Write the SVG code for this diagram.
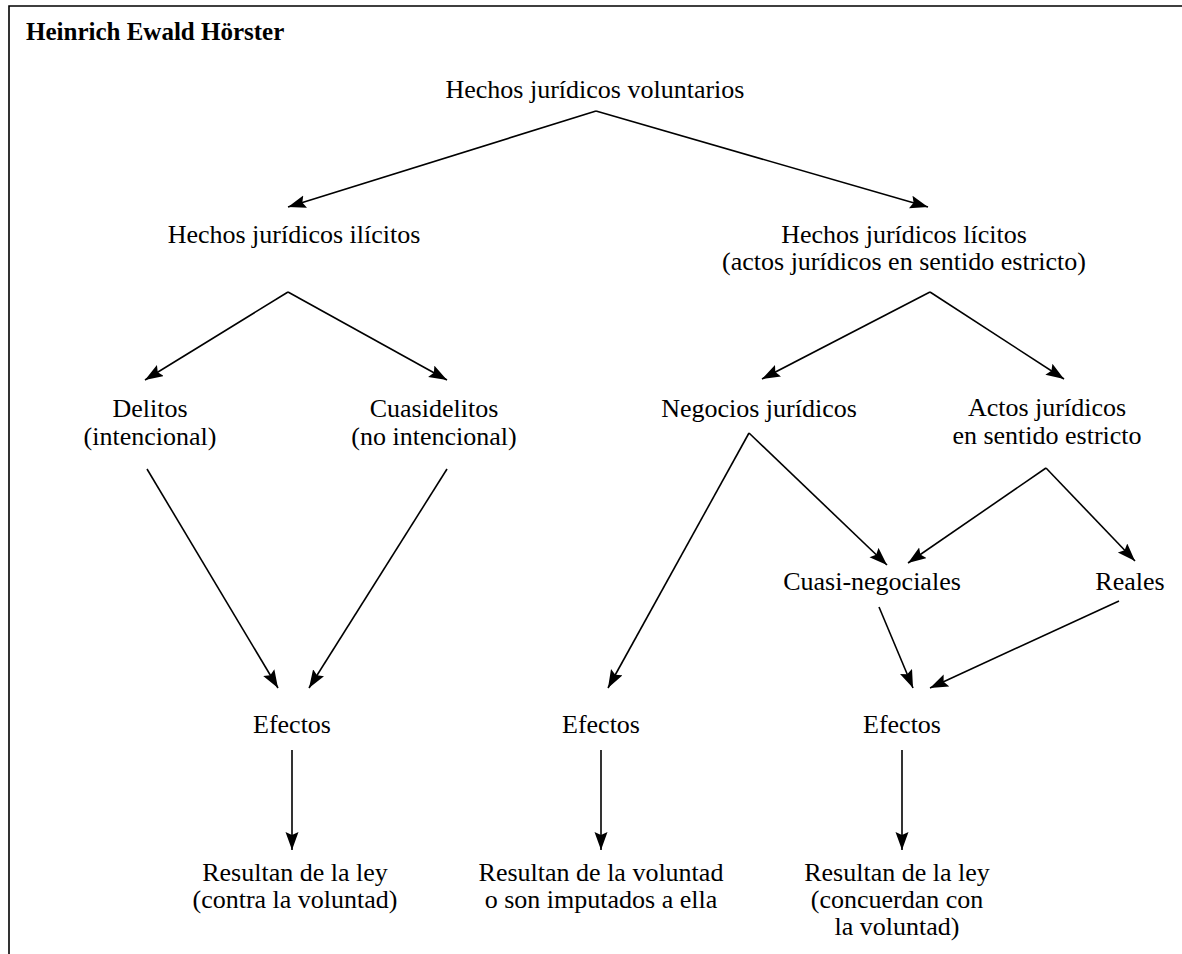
<svg xmlns="http://www.w3.org/2000/svg" width="1182" height="954" viewBox="0 0 1182 954">
<defs>
<marker id="ah" markerUnits="userSpaceOnUse" markerWidth="20" markerHeight="14" refX="18" refY="6.5" orient="auto">
<path d="M0,0 L18,6.5 L0,13 L3,6.5 z" fill="#000"/>
</marker>
<style>
text{font-family:"Liberation Serif","Times New Roman",serif;font-size:26px;fill:#000;text-anchor:middle}
.title{font-weight:bold;font-size:25px;text-anchor:start}
.c{stroke:#000;stroke-width:1.6;fill:none;marker-end:url(#ah)}
.frame{stroke:#000;stroke-width:1.6;fill:none}
</style>
</defs>
<rect width="1182" height="954" fill="#fff"/>
<path class="frame" d="M9,954 L9,6 L1182,6"/>
<g id="title"><text class="title" x="26" y="40">Heinrich Ewald Hörster</text></g>
<g id="n-voluntarios"><text x="595" y="98">Hechos jurídicos voluntarios</text></g>
<g id="n-ilicitos"><text x="294" y="243">Hechos jurídicos ilícitos</text></g>
<g id="n-licitos"><text x="904" y="243">Hechos jurídicos lícitos</text><text x="904" y="270">(actos jurídicos en sentido estricto)</text></g>
<g id="n-delitos"><text x="150" y="417">Delitos</text><text x="150" y="445">(intencional)</text></g>
<g id="n-cuasidelitos"><text x="434" y="417">Cuasidelitos</text><text x="434" y="445">(no intencional)</text></g>
<g id="n-negocios"><text x="759" y="417">Negocios jurídicos</text></g>
<g id="n-actos"><text x="1047" y="416">Actos jurídicos</text><text x="1047" y="444">en sentido estricto</text></g>
<g id="n-cuasinegociales"><text x="872" y="590">Cuasi-negociales</text></g>
<g id="n-reales"><text x="1130" y="590">Reales</text></g>
<g id="n-efectos1"><text x="292" y="733">Efectos</text></g>
<g id="n-efectos2"><text x="601" y="733">Efectos</text></g>
<g id="n-efectos3"><text x="902" y="733">Efectos</text></g>
<g id="n-res1"><text x="295" y="881">Resultan de la ley</text><text x="295" y="908">(contra la voluntad)</text></g>
<g id="n-res2"><text x="601" y="881">Resultan de la voluntad</text><text x="601" y="908">o son imputados a ella</text></g>
<g id="n-res3"><text x="897" y="881">Resultan de la ley</text><text x="897" y="908">(concuerdan con</text><text x="897" y="935">la voluntad)</text></g>
<g id="connectors">
<path class="c" d="M596,111 L288,207"/>
<path class="c" d="M596,111 L928,207"/>
<path class="c" d="M288,292 L145,380"/>
<path class="c" d="M288,292 L447,380"/>
<path class="c" d="M930,292 L762,379"/>
<path class="c" d="M930,292 L1064,379"/>
<path class="c" d="M147,469 L278,688"/>
<path class="c" d="M447,469 L309,688"/>
<path class="c" d="M749,433 L608,688"/>
<path class="c" d="M749,433 L887,565"/>
<path class="c" d="M1046,468 L908,563"/>
<path class="c" d="M1046,468 L1135,561"/>
<path class="c" d="M879,607 L913,688"/>
<path class="c" d="M1119,601 L930,688"/>
<path class="c" d="M292,750 L292,850"/>
<path class="c" d="M601,750 L601,850"/>
<path class="c" d="M902,750 L902,850"/>
</g>
</svg>
